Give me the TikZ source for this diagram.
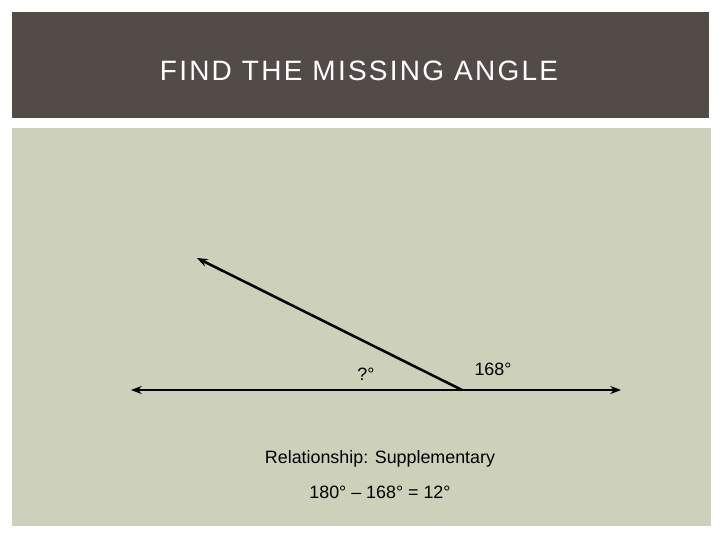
\documentclass[tikz,border=0pt]{standalone}
\usepackage{fontspec}
\setmainfont{Liberation Sans}
\newfontfamily\titlefont[LetterSpace=8]{Liberation Sans}
\usetikzlibrary{arrows.meta}
\definecolor{hdr}{HTML}{534B48}
\definecolor{pane}{HTML}{CDD1BA}
\tikzset{
  ray/.style={line width=1.9pt, -{Stealth[length=8pt,width=6pt]}},
  lbl/.style={font=\fontsize{13.4}{15}\selectfont, inner sep=0pt, anchor=center}
}
\begin{document}
\begin{tikzpicture}[x=0.75pt,y=-0.75pt]
\useasboundingbox (0,0) rectangle (720,540);
\fill[white] (0,0) rectangle (720,540);
\fill[hdr] (12,12) rectangle (709,118);
\fill[pane] (12,128) rectangle (711,526);
\node[text=white, font=\titlefont\fontsize{21}{23}\selectfont, inner sep=0pt] (title) at (359,71) {FIND THE MISSING ANGLE};
\coordinate (v) at (462,390);
\coordinate (l) at (131,390);
\coordinate (r) at (621,390);
\coordinate (s) at (197,258);
\draw[ray] (v) -- (l);
\draw[ray] (v) -- (r);
\draw[ray] (v) -- (s);
\node[lbl] (q) at (366,374) {?°};
\node[lbl] (a) at (493,369) {168°};
\node[lbl] (rel) at (380,459) {Relationship: Supplementary};
\node[lbl] (eq) at (380,492) {180° – 168° = 12°};
\end{tikzpicture}
\end{document}
